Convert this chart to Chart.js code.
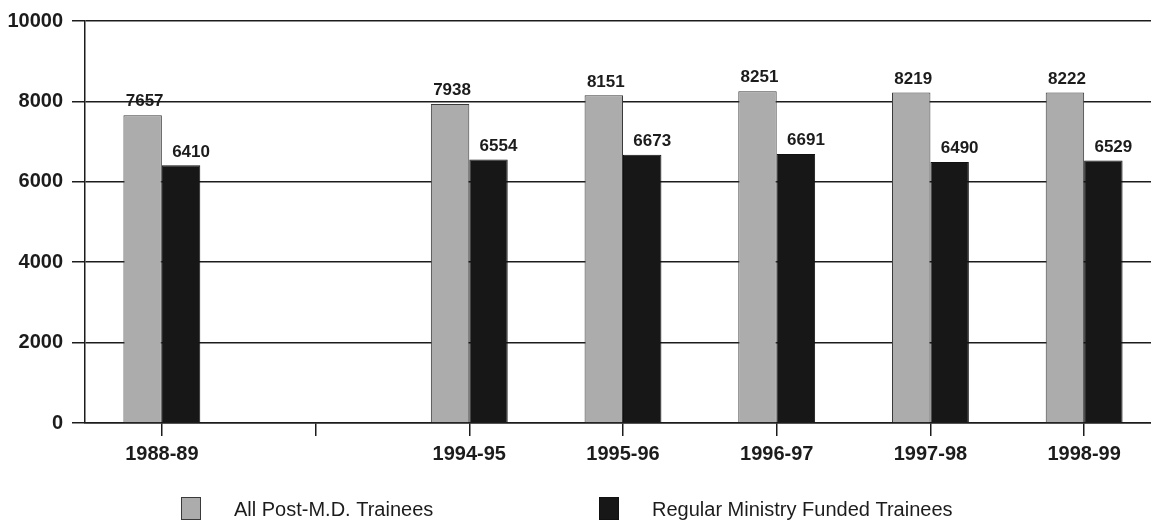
<!DOCTYPE html>
<html>
<head>
<meta charset="utf-8">
<title>Post-M.D. Trainees</title>
<script src="https://cdn.jsdelivr.net/npm/chart.js@4/dist/chart.umd.min.js"></script>
<style>
  html, body { margin: 0; padding: 0; background: #fff; overflow: hidden; }
  #wrap { width: 1151px; height: 525px; overflow: hidden; }
</style>
</head>
<body>
<div id="wrap"><canvas id="chart" width="1175" height="525"></canvas></div>
<script>
// Chart data
const years = ['1988-89', '', '1994-95', '1995-96', '1996-97', '1997-98', '1998-99'];
const allTrainees = [7657, null, 7938, 8151, 8251, 8219, 8222];
const ministryFunded = [6410, null, 6554, 6673, 6691, 6490, 6529];
const seriesNames = ['All Post-M.D. Trainees', 'Regular Ministry Funded Trainees'];
const yTicks = [0, 2000, 4000, 6000, 8000, 10000];

const FONT = '"Liberation Sans", Arial, sans-serif';
const INK = '#1c1c1c';

// Value labels above each bar
const valueLabels = {
  id: 'valueLabels',
  afterDatasetsDraw(chart) {
    const ctx = chart.ctx;
    ctx.save();
    ctx.font = 'bold 17px ' + FONT;
    ctx.fillStyle = INK;
    ctx.textAlign = 'center';
    ctx.textBaseline = 'bottom';
    chart.data.datasets.forEach((ds, i) => {
      const meta = chart.getDatasetMeta(i);
      meta.data.forEach((bar, j) => {
        if (ds.data[j] == null) return;
        const shift = i === 1 ? 10 : 2;
        ctx.fillText(String(ds.data[j]), bar.x + shift, bar.y - 5);
      });
    });
    ctx.restore();
  }
};

// Legend drawn along the bottom, spaced like the original
const bottomLegend = {
  id: 'bottomLegend',
  afterDraw(chart) {
    const ctx = chart.ctx;
    const boxX = [181, 599];
    ctx.save();
    ctx.font = '20px ' + FONT;
    ctx.textBaseline = 'middle';
    chart.data.datasets.forEach((ds, i) => {
      ctx.fillStyle = ds.backgroundColor;
      ctx.fillRect(boxX[i], 497, 20, 23);
      ctx.strokeStyle = ds.borderColor;
      ctx.lineWidth = 1;
      ctx.strokeRect(boxX[i] + 0.5, 497.5, 19, 22);
      ctx.fillStyle = INK;
      ctx.fillText(ds.label, boxX[i] + 53, 510);
    });
    ctx.restore();
  }
};

new Chart(document.getElementById('chart'), {
  type: 'bar',
  data: {
    labels: years,
    datasets: [
      {
        label: seriesNames[0],
        data: allTrainees,
        backgroundColor: '#acacac',
        borderColor: '#3a3a3a',
        borderWidth: 1,
        categoryPercentage: 0.5,
        barPercentage: 1
      },
      {
        label: seriesNames[1],
        data: ministryFunded,
        backgroundColor: '#171717',
        borderColor: '#111111',
        borderWidth: 1,
        categoryPercentage: 0.5,
        barPercentage: 1
      }
    ]
  },
  options: {
    responsive: false,
    animation: false,
    layout: { padding: { left: 0, top: 14, right: 14, bottom: 0 } },
    plugins: {
      legend: { display: false },
      tooltip: { enabled: false }
    },
    scales: {
      x: {
        offset: true,
        grid: {
          offset: false,
          drawOnChartArea: false,
          drawTicks: true,
          tickLength: 13,
          color: INK,
          lineWidth: 1.5
        },
        border: { display: true, color: INK, width: 1.5 },
        ticks: {
          padding: 6,
          color: INK,
          font: { family: FONT, size: 20, weight: 'bold' },
          maxRotation: 0,
          autoSkip: false
        },
        afterFit: scale => { scale.height = 102; }
      },
      y: {
        min: 0,
        max: 10000,
        afterBuildTicks: scale => { scale.ticks = yTicks.map(v => ({ value: v })); },
        grid: {
          color: INK,
          lineWidth: 1.5,
          tickLength: 13
        },
        border: { display: true, color: INK, width: 1.5 },
        ticks: {
          padding: 9,
          color: INK,
          font: { family: FONT, size: 20, weight: 'bold' },
          callback: value => String(value)
        },
        afterFit: scale => { scale.width = 85; }
      }
    }
  },
  plugins: [valueLabels, bottomLegend]
});
</script>
</body>
</html>
